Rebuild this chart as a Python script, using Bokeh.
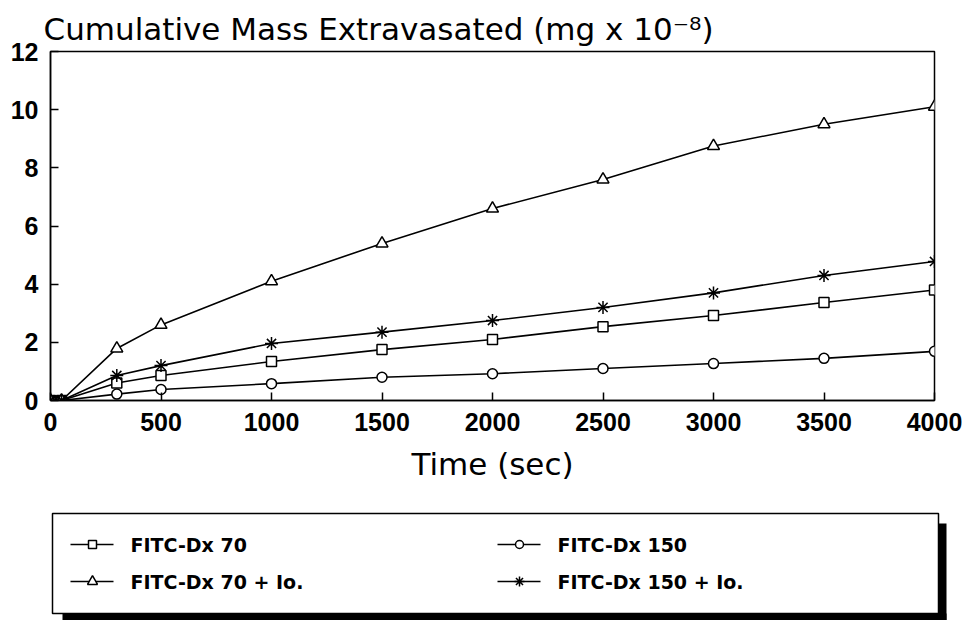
from bokeh.plotting import figure
from bokeh.models import Range1d, FixedTicker
from bokeh.layouts import column
from bokeh.core.properties import value
from bokeh.embed import file_html
from bokeh.resources import INLINE

# Sampling times (sec)
time_s = [0, 50, 300, 500, 1000, 1500, 2000, 2500, 3000, 3500, 4000]

# Cumulative mass extravasated (mg x 10^-8)
dx70 = [0, 0, 0.6, 0.86, 1.34, 1.75, 2.1, 2.54, 2.92, 3.37, 3.8]
dx150 = [0, 0, 0.22, 0.38, 0.58, 0.8, 0.92, 1.1, 1.27, 1.45, 1.69]
dx70_io = [0, 0, 1.79, 2.6, 4.1, 5.4, 6.6, 7.6, 8.75, 9.5, 10.1]
dx150_io = [0, 0, 0.86, 1.2, 1.96, 2.35, 2.75, 3.2, 3.7, 4.3, 4.78]

series_names = ["FITC-Dx 70", "FITC-Dx 150", "FITC-Dx 70 + Io.", "FITC-Dx 150 + Io."]
series_values = [dx70, dx150, dx70_io, dx150_io]
series_markers = ["square", "circle", "triangle", "asterisk"]

x_ticks = [0, 500, 1000, 1500, 2000, 2500, 3000, 3500, 4000]
y_ticks = [0, 2, 4, 6, 8, 10, 12]

title_text = "Cumulative Mass Extravasated (mg x 10\u207b\u2078)"
x_label = "Time (sec)"

PAGE_W = 973
LEG_H = 125

# ---- main chart ----
p = figure(width=PAGE_W, height=495, x_range=Range1d(0, 4000), y_range=Range1d(0, 12),
           output_backend="svg", toolbar_location=None,
           min_border_left=50, min_border_right=39,
           min_border_top=51, min_border_bottom=95,
           background_fill_color="white", border_fill_color="white")
p.frame_align = False

p.title.text = title_text
p.title.text_font = "DejaVu Sans"
p.title.text_font_size = "31px"
p.title.text_font_style = "normal"
p.title.text_color = "black"
p.title.align = "left"
p.title.offset = -7

p.xgrid.grid_line_color = None
p.ygrid.grid_line_color = None
p.outline_line_color = "black"
p.outline_line_width = 1.5
p.outline_line_alpha = 1.0

p.xaxis.ticker = FixedTicker(ticks=x_ticks)
p.yaxis.ticker = FixedTicker(ticks=y_ticks)
for ax in (p.xaxis, p.yaxis):
    ax.axis_line_color = "black"
    ax.axis_line_width = 1.5
    ax.major_tick_in = 8
    ax.major_tick_out = 0
    ax.major_tick_line_width = 1.5
    ax.major_tick_line_color = "black"
    ax.minor_tick_line_color = None
    ax.major_label_text_font = "Liberation Sans"
    ax.major_label_text_font_style = "bold"
    ax.major_label_text_font_size = "25px"
    ax.major_label_text_color = "black"
    ax.major_label_standoff = 12

p.xaxis.axis_label = x_label
p.xaxis.axis_label_text_font = "DejaVu Sans"
p.xaxis.axis_label_text_font_size = "31px"
p.xaxis.axis_label_text_font_style = "normal"
p.xaxis.axis_label_text_color = "black"
p.xaxis.axis_label_standoff = 12

for vals, mk in zip(series_values, series_markers):
    p.line(time_s, vals, line_color="black", line_width=1.6)
    size = 12 if mk == "triangle" else (13 if mk == "asterisk" else 10)
    p.scatter(time_s, vals, marker=mk, size=size, fill_color="white",
              line_color="black", line_width=1.5)

# ---- legend panel (drawn in page pixels) ----
lf = figure(width=PAGE_W, height=LEG_H,
            x_range=Range1d(0, PAGE_W), y_range=Range1d(LEG_H, 0),
            output_backend="svg", toolbar_location=None, min_border=0,
            x_axis_type=None, y_axis_type=None,
            background_fill_color="white", border_fill_color="white")
lf.frame_align = False
lf.grid.visible = False
lf.outline_line_color = None

# drop shadow, then the box itself
lf.quad(left=[938, 62], right=[946, 946], top=[28, 118], bottom=[LEG_H, LEG_H],
        fill_color="black", line_color=None)
lf.quad(left=[52], right=[938], top=[18], bottom=[118],
        fill_color="white", line_color="black", line_width=1.5)

col_x = [70, 497]
row_y = [49, 86]
lx0, lx1, mx, tx, ly = [], [], [], [], []
for i in range(len(series_names)):
    x0 = col_x[i % 2]
    y0 = row_y[i // 2]
    lx0.append(x0)
    lx1.append(x0 + 43)
    mx.append(x0 + 22)
    tx.append(x0 + 60)
    ly.append(y0)

lf.segment(x0=lx0, y0=ly, x1=lx1, y1=ly, line_color="black", line_width=1.5)
for i, mk in enumerate(series_markers):
    size = 10 if mk in ("triangle", "asterisk") else 8
    lf.scatter([mx[i]], [ly[i]], marker=mk, size=size, fill_color="white",
               line_color="black", line_width=1.5)
lf.text(x=tx, y=ly, text=series_names, text_font=value("DejaVu Sans"),
        text_font_style="bold", text_font_size="19px", text_baseline="middle",
        text_align="left", text_color="black")

layout = column(p, lf, spacing=0)
open("out.html", "w").write(file_html(layout, INLINE))
